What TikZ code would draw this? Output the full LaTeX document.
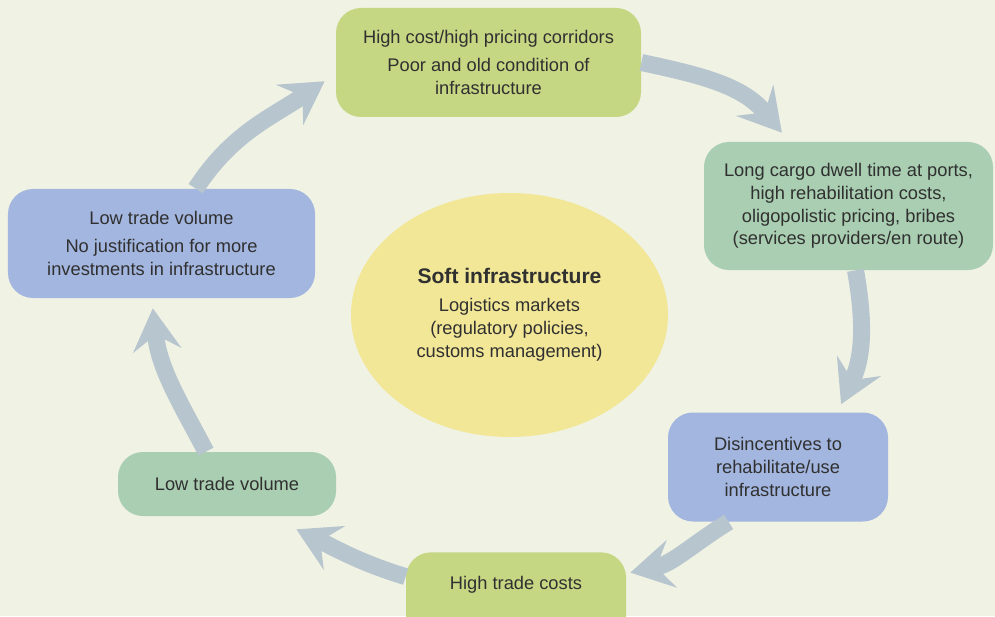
\documentclass[tikz,border=0pt]{standalone}
\usepackage{fontspec}
\setmainfont{Liberation Sans}
\usepackage{xcolor}
\usepackage{tikz}
\usetikzlibrary{arrows.meta,shapes.geometric}
\definecolor{PaperBg}{HTML}{F0F2E4}
\definecolor{LimeBox}{HTML}{C6D784}
\definecolor{SageBox}{HTML}{A9CEB1}
\definecolor{PeriBox}{HTML}{A3B6DF}
\definecolor{CoreYellow}{HTML}{F2E797}
\definecolor{FlowGray}{HTML}{B7C5CE}
\definecolor{InkDark}{HTML}{303030}

\tikzset{
  stage/.style={rounded corners=0.5cm,align=center,text=InkDark,inner sep=2pt,
    font=\fontsize{10.4}{13}\selectfont},
  flow/.style={line width=0.34cm,FlowGray,
    -{Stealth[length=0.85cm,width=0.98cm,inset=0.32cm,line width=0pt]}}
}

\begin{document}
\begin{tikzpicture}
  \fill[PaperBg] (0,0) rectangle (19.9,12.32);
  \useasboundingbox (0,0) rectangle (19.9,12.32);

  % the cycle of stages
  \node[stage,fill=LimeBox,minimum width=6.1cm,minimum height=2.18cm] (costs) at (9.77,11.07)
    {High cost/high pricing corridors\\[3pt]Poor and old condition of\\infrastructure};
  \node[stage,fill=SageBox,minimum width=5.78cm,minimum height=2.56cm] (dwell) at (16.97,8.2)
    {Long cargo dwell time at ports,\\high rehabilitation costs,\\oligopolistic pricing, bribes\\(services providers/en route)};
  \node[stage,fill=PeriBox,minimum width=4.4cm,minimum height=2.18cm] (disinc) at (15.56,2.98)
    {Disincentives to\\rehabilitate/use\\infrastructure};
  \node[stage,fill=LimeBox,minimum width=4.4cm,text height=0.67cm,text depth=1cm,anchor=north] (trade) at (10.32,1.28)
    {High trade costs};
  \node[stage,fill=SageBox,minimum width=4.36cm,minimum height=1.28cm] (lowvol) at (4.54,2.64)
    {Low trade volume};
  \node[stage,fill=PeriBox,minimum width=6.14cm,minimum height=2.18cm] (nojust) at (3.23,7.45)
    {Low trade volume\\[3pt]No justification for more\\investments in infrastructure};

  % centre
  \node[ellipse,fill=CoreYellow,minimum width=6.34cm,minimum height=4.88cm,align=center,
    text=InkDark,font=\fontsize{10.4}{13}\selectfont] (soft) at (10.19,6.02)
    {{\fontsize{12}{14}\selectfont\bfseries Soft infrastructure}\\[3pt]Logistics markets\\(regulatory policies,\\customs management)};

  \draw[flow] (costs.east) to[out=-12,in=130] ([yshift=0.18cm]dwell.136);
  \draw[flow] ([xshift=0.14cm]dwell.south) to[out=-80,in=65] ([yshift=0.16cm]disinc.41);
  \draw[flow] (disinc.228) to[out=212,in=12] ([xshift=0.08cm,yshift=0.5cm]trade.east);
  \draw[flow] ([yshift=0.42cm]trade.west) to[out=163,in=-26] ([yshift=-0.26cm]lowvol.335);
  \draw[flow] (lowvol.123) to[out=118,in=-84] ([yshift=-0.2cm]nojust.261);
  \draw[flow] (nojust.58) to[out=57,in=-146] ([xshift=-0.22cm]costs.187);
\end{tikzpicture}
\end{document}
